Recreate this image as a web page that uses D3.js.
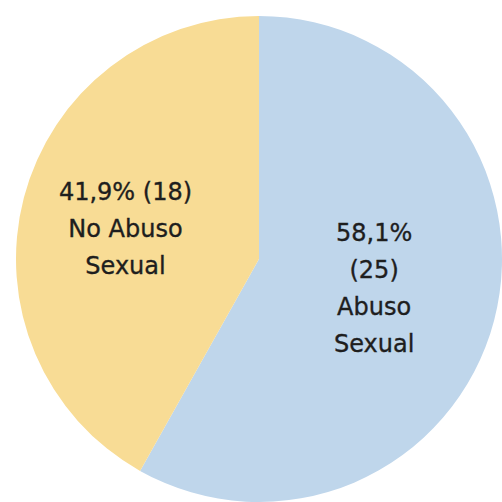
<!DOCTYPE html>
<html>
<head>
<meta charset="utf-8">
<script src="https://cdn.jsdelivr.net/npm/d3@7"></script>
<style>
  html, body { margin: 0; padding: 0; background: #ffffff; }
  svg { display: block; }
</style>
</head>
<body>
<svg id="chart" width="502" height="502"></svg>
<script>
// ---- data ----
const categories = ["Abuso Sexual", "No Abuso Sexual"];
const counts = [25, 18];
const percentLabels = ["58,1%", "41,9%"];
const labelLines = [
  ["58,1%", "(25)", "Abuso", "Sexual"],
  ["41,9% (18)", "No Abuso", "Sexual"]
];
const colors = ["#BFD6EB", "#F8DC95"];

// ---- layout ----
const W = 502, H = 502;
const cx = 259, cy = 259, R = 243;
const labelRadius = [119, 138];
const labelDy = [-1, 4];
const lineHeight = 37;
const fontSize = 24;

const svg = d3.select("#chart");
const g = svg.append("g").attr("transform", `translate(${cx},${cy})`);

const pie = d3.pie().sort(null).value(d => d).startAngle(0).endAngle(2 * Math.PI);
const arcs = pie(counts);
const arc = d3.arc().innerRadius(0).outerRadius(R);

g.selectAll("path.slice")
  .data(arcs)
  .join("path")
  .attr("class", "slice")
  .attr("d", arc)
  .attr("fill", (d, i) => colors[i]);

arcs.forEach((d, i) => {
  const la = d3.arc().innerRadius(labelRadius[i]).outerRadius(labelRadius[i]);
  const [x, y0] = la.centroid(d);
  const y = y0 + labelDy[i];
  const lines = labelLines[i];
  const t = g.append("text")
    .attr("x", x)
    .attr("y", y)
    .attr("text-anchor", "middle")
    .attr("font-family", "DejaVu Sans, sans-serif")
    .attr("font-size", fontSize)
    .attr("fill", "#1e1e1e")
    .attr("stroke", "#1e1e1e")
    .attr("stroke-width", 0.35);
  const offset0 = -((lines.length - 1) / 2) * lineHeight + fontSize * 0.36;
  lines.forEach((ln, j) => {
    t.append("tspan")
      .attr("x", x)
      .attr("y", y + offset0 + j * lineHeight)
      .text(ln);
  });
});
</script>
</body>
</html>
